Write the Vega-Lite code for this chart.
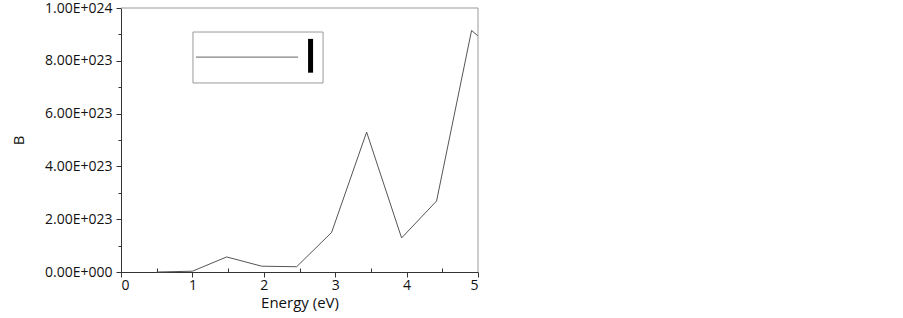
{
  "$schema": "https://vega.github.io/schema/vega-lite/v6.json",
  "width": 357,
  "height": 264,
  "autosize": {"type": "none"},
  "padding": {"left": 121, "top": 8, "right": 425, "bottom": 46},
  "background": "white",
  "config": {
    "view": {"stroke": null},
    "font": "Open Sans",
    "axis": {"labelFont": "Open Sans", "titleFont": "Open Sans", "labelFontSize": 14, "titleFontSize": 15, "titleFontWeight": "normal", "labelColor": "#111", "titleColor": "#111", "domainColor": "#333", "tickColor": "#333", "grid": false}
  },
  "datasets": {
    "series": [
      {"energy": 0.5, "B": 0},
      {"energy": 1.0, "B": 3e21},
      {"energy": 1.48, "B": 5.7e22},
      {"energy": 1.97, "B": 2.2e22},
      {"energy": 2.46, "B": 2.0e22},
      {"energy": 2.95, "B": 1.5e23},
      {"energy": 3.44, "B": 5.3e23},
      {"energy": 3.93, "B": 1.29e23},
      {"energy": 4.42, "B": 2.69e23},
      {"energy": 4.91, "B": 9.15e23},
      {"energy": 5.0, "B": 8.94e23}
    ],
    "frame": [
      {"x": 0, "y": 1e24, "x2": 5, "y2": 1e24},
      {"x": 5, "y": 0, "x2": 5, "y2": 1e24}
    ],
    "legendbox": [
      {"x": 1.008, "x2": 2.83, "y": 0.716e24, "y2": 0.909e24}
    ],
    "legendline": [
      {"x": 1.05, "x2": 2.48, "y": 0.814e24, "y2": 0.814e24}
    ],
    "legendbar": [
      {"x": 2.655, "x2": 2.655, "y": 0.755e24, "y2": 0.883e24}
    ]
  },
  "resolve": {"axis": {"x": "independent", "y": "independent"}},
  "layer": [
    {
      "data": {"name": "series"},
      "mark": {"type": "line", "color": "#555", "strokeWidth": 1},
      "encoding": {
        "x": {"field": "energy", "type": "quantitative", "scale": {"domain": [0, 5], "nice": false, "zero": false},
          "axis": {"title": "Energy (eV)", "values": [0, 1, 2, 3, 4, 5], "format": "d", "tickSize": 5, "labelPadding": 1, "titlePadding": 3}},
        "y": {"field": "B", "type": "quantitative", "scale": {"domain": [0, 1e24], "nice": false},
          "axis": {"title": "B", "values": [0, 2e23, 4e23, 6e23, 8e23, 1e24], "tickSize": 5, "labelPadding": 4, "titlePadding": 18,
            "labelExpr": "datum.value == 0 ? '0.00E+000' : format(datum.value / pow(10, floor(log(datum.value) / LN10 + 1e-9)), '.2f') + 'E+' + (floor(log(datum.value) / LN10 + 1e-9) < 100 ? '0' : '') + floor(log(datum.value) / LN10 + 1e-9)"}}
      }
    },
    {
      "data": {"name": "frame"},
      "mark": {"type": "rule", "color": "#999", "strokeWidth": 1},
      "encoding": {
        "x": {"field": "x", "type": "quantitative", "axis": {"orient": "bottom", "values": [0.5, 1.5, 2.5, 3.5, 4.5], "labels": false, "domain": false, "tickSize": -4, "title": null}},
        "x2": {"field": "x2"},
        "y": {"field": "y", "type": "quantitative", "axis": {"orient": "left", "values": [1e23, 3e23, 5e23, 7e23, 9e23], "labels": false, "domain": false, "tickSize": 3, "title": null}},
        "y2": {"field": "y2"}
      }
    },
    {
      "data": {"name": "legendbox"},
      "mark": {"type": "rect", "fill": "white", "stroke": "#999", "strokeWidth": 1},
      "encoding": {
        "x": {"field": "x", "type": "quantitative", "axis": null},
        "x2": {"field": "x2"},
        "y": {"field": "y", "type": "quantitative", "axis": null},
        "y2": {"field": "y2"}
      }
    },
    {
      "data": {"name": "legendline"},
      "mark": {"type": "rule", "color": "#666", "strokeWidth": 1},
      "encoding": {
        "x": {"field": "x", "type": "quantitative", "axis": null},
        "x2": {"field": "x2"},
        "y": {"field": "y", "type": "quantitative", "axis": null},
        "y2": {"field": "y2"}
      }
    },
    {
      "data": {"name": "legendbar"},
      "mark": {"type": "rule", "color": "#000", "strokeWidth": 5},
      "encoding": {
        "x": {"field": "x", "type": "quantitative", "axis": null},
        "x2": {"field": "x2"},
        "y": {"field": "y", "type": "quantitative", "axis": null},
        "y2": {"field": "y2"}
      }
    }
  ]
}
